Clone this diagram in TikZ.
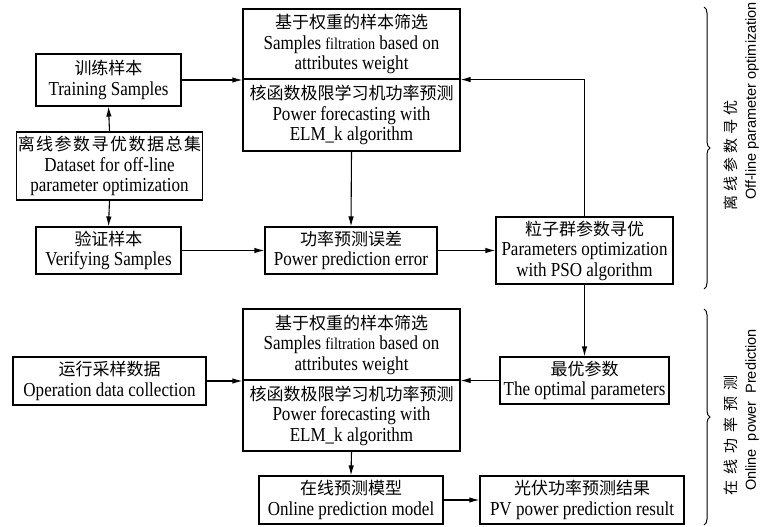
\documentclass[tikz,border=0pt]{standalone}
\usepackage{fontspec}
\setmainfont{Liberation Serif}[FakeStretch=0.86]
\newfontfamily\cjk{Noto Sans CJK SC}
\newfontfamily\sidesans{Liberation Sans}
\usetikzlibrary{arrows.meta,decorations.pathreplacing}
\newcommand\fil{{\fontsize{16.5}{20.5}\selectfont filtration}}
\newcommand\cn[1]{{\cjk\fontsize{17}{20.5}\selectfont #1}}
\tikzset{
  box/.style={draw, line width=1.1pt, inner sep=0pt, align=center,
    font=\fontsize{19.8}{20.5}\selectfont},
  arr/.style={line width=1.1pt, -{Latex[length=10pt,width=5.5pt]}},
  brc/.style={line width=1pt, decorate, decoration={brace, amplitude=6pt}},
  sidecn/.style={rotate=90, inner sep=0pt, font=\cjk\fontsize{15}{15}\selectfont},
  sideen/.style={rotate=90, inner sep=0pt, font=\sidesans\fontsize{14.5}{15}\selectfont},
}
\begin{document}
\begin{tikzpicture}[x=1pt,y=-1pt]
\useasboundingbox (0,0) rectangle (761,527);
% offline part
\node[box, minimum width=145pt, minimum height=52pt] (train) at (108.5,80)
  {\cn{训练样本}\\Training Samples};
\node[box, minimum width=186pt, minimum height=68pt] (data) at (109.5,166)
  {\cn{离\hspace{1.5pt}线\hspace{1.5pt}参\hspace{1.5pt}数\hspace{1.5pt}寻\hspace{1.5pt}优\hspace{1.5pt}数\hspace{1.5pt}据\hspace{1.5pt}总\hspace{1.5pt}集}\\Dataset for off-line\\parameter optimization};
\node[box, minimum width=145pt, minimum height=47pt] (verify) at (108.5,250.5)
  {\cn{验证样本}\\Verifying Samples};
\node[box, minimum width=217pt, minimum height=70pt] (topA) at (351.5,44)
  {\cn{基于权重的样本筛选}\\Samples \fil\ based on\\attributes weight};
\node[box, minimum width=217pt, minimum height=72pt] (topB) at (351.5,115)
  {\cn{核函数极限学习机功率预测}\\Power forecasting with\\ELM\_k algorithm};
\node[box, minimum width=172pt, minimum height=47pt] (err) at (351,250.5)
  {\cn{功率预测误差}\\Power prediction error};
\node[box, minimum width=177pt, minimum height=67pt] (pso) at (584.5,250.5)
  {\cn{粒子群参数寻优}\\Parameters optimization\\with PSO algorithm};
% online part
\node[box, minimum width=217pt, minimum height=71pt] (botA) at (351.5,344.5)
  {\cn{基于权重的样本筛选}\\Samples \fil\ based on\\attributes weight};
\node[box, minimum width=217pt, minimum height=71pt] (botB) at (351.5,415.5)
  {\cn{核函数极限学习机功率预测}\\Power forecasting with\\ELM\_k algorithm};
\node[box, minimum width=193pt, minimum height=48pt] (opdata) at (109.5,381)
  {\cn{运行采样数据}\\Operation data collection};
\node[box, minimum width=169pt, minimum height=47pt] (optimal) at (584.5,380.5)
  {\cn{最优参数}\\The optimal parameters};
\node[box, minimum width=184pt, minimum height=48pt] (online) at (351,500)
  {\cn{在线预测模型}\\Online prediction model};
\node[box, minimum width=204pt, minimum height=48pt] (pv) at (582,500)
  {\cn{光伏功率预测结果}\\PV power prediction result};
% connectors
\draw[arr] (train.east) -- (train.east -| topA.west);
\draw[arr] (data.north) -- (train.south);
\draw[arr] (data.south) -- (verify.north);
\draw[arr] (verify.east) -- (err.west);
\draw[arr] (topB.south) -- (err.north);
\draw[arr] (err.east) -- (pso.west);
\draw[arr] (pso.north) |- (topA.south east);
\draw[arr] (pso.south) -- (optimal.north);
\draw[arr] (optimal.west) -- (optimal.west -| botA.east);
\draw[arr] (opdata.east) -- (opdata.east -| botA.west);
\draw[arr] (botB.south) -- (online.north);
\draw[arr] (online.east) -- (pv.west);
% braces and side labels
\coordinate (b1a) at (704,7);
\coordinate (b1b) at (704,289);
\coordinate (b2a) at (704,309);
\coordinate (b2b) at (704,525);
\draw[brc] (b1a) -- (b1b);
\draw[brc] (b2a) -- (b2b);
\node[sidecn] (l1) at (731,155) {离\hspace{4pt}线\hspace{4pt}参\hspace{4pt}数\hspace{4pt}寻\hspace{4pt}优};
\node[sideen] (l2) at (752,101) {Off-line parameter optimization};
\node[sidecn] (l3) at (731,435) {在\hspace{6pt}线\hspace{6pt}功\hspace{6pt}率\hspace{6pt}预\hspace{6pt}测};
\node[sideen] (l4) at (752,410) {Online\hspace{4pt} power\hspace{4pt} Prediction};
\end{tikzpicture}
\end{document}
